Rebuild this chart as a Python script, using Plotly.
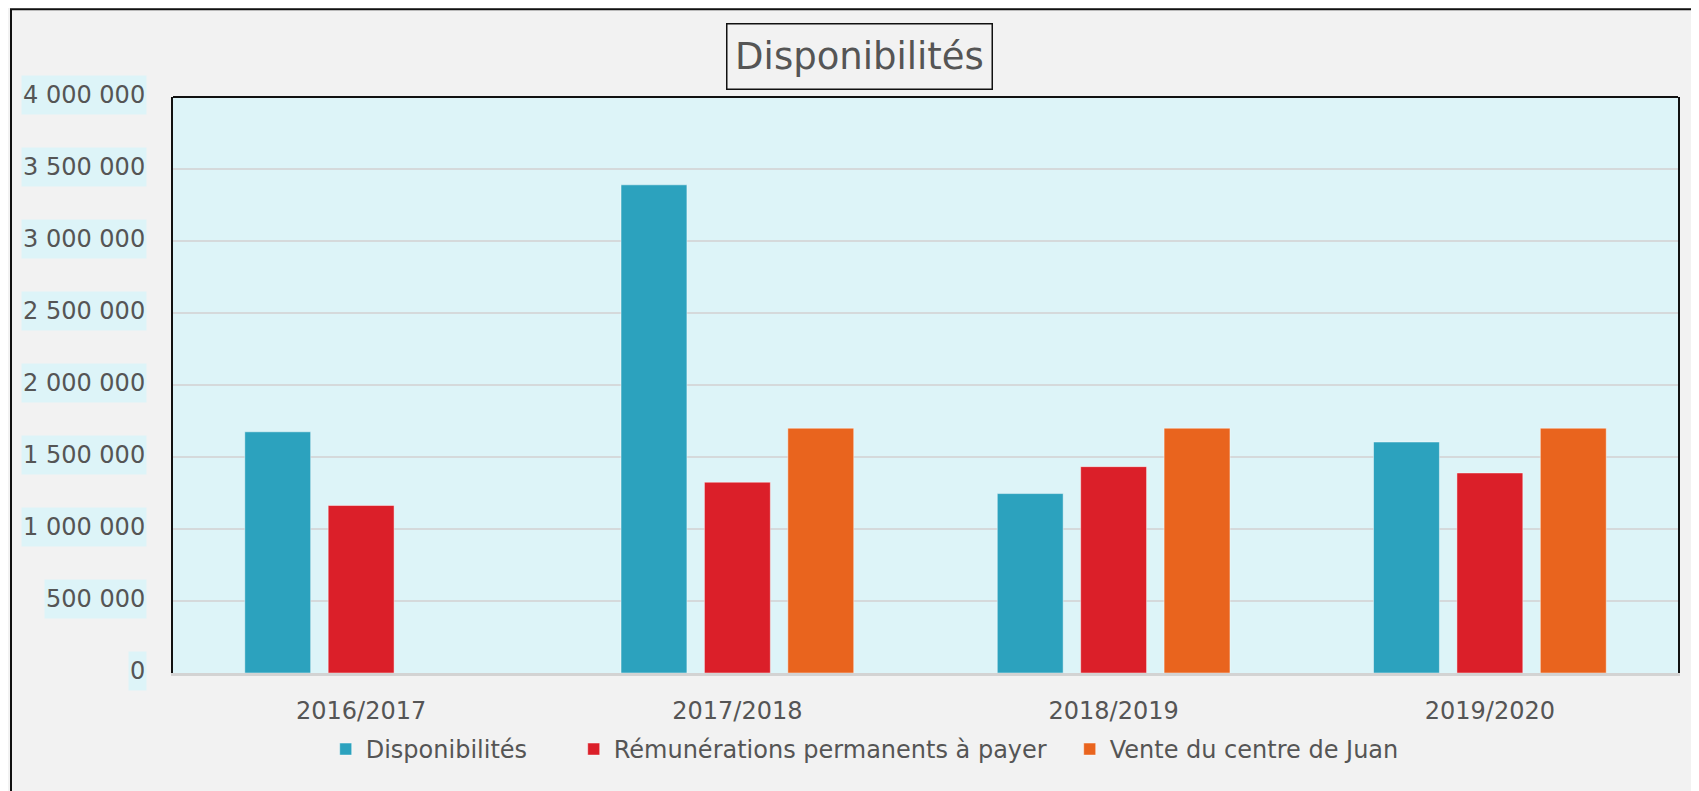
import plotly.graph_objects as go

categories = ["2016/2017", "2017/2018", "2018/2019", "2019/2020"]
disponibilites = [1675000, 3390000, 1246000, 1604000]
remunerations = [1163000, 1325000, 1433000, 1389000]
vente = [None, 1700000, 1700000, 1700000]

series_names = ["Disponibilités", "Rémunérations permanents à payer", "Vente du centre de Juan"]
series_colors = ["#2ca2be", "#db1f29", "#e9641e"]

y_tick_values = [0, 500000, 1000000, 1500000, 2000000, 2500000, 3000000, 3500000, 4000000]
y_tick_labels = ["0", "500 000", "1 000 000", "1 500 000", "2 000 000",
                 "2 500 000", "3 000 000", "3 500 000", "4 000 000"]

title_text = "Disponibilités"

FONT = "DejaVu Sans"
TEXT_COLOR = "#555555"
PAGE_BG = "#f2f2f2"
PLOT_BG = "#ddf4f8"

OFF = 8  # default page body margin
W, H = 1699 - OFF, 791 - OFF
ML, MT = 173 - OFF, 97 - OFF
PLOT_RIGHT, PLOT_BOTTOM = 1678 - OFF, 673.5 - OFF
MR = W - PLOT_RIGHT
MB = H - PLOT_BOTTOM
PW = W - ML - MR
PH = H - MT - MB


def fx(page_x):
    return (page_x - OFF - ML) / PW


def fy(page_y):
    return (PLOT_BOTTOM - (page_y - OFF)) / PH


legend_widths = [203, 451, 320]

fig = go.Figure()
for name, vals, col, lw in zip(series_names, [disponibilites, remunerations, vente], series_colors, legend_widths):
    fig.add_trace(go.Bar(
        x=categories, y=vals, name=name,
        marker=dict(color=col, line=dict(color="rgba(255,255,255,0.45)", width=1)),
        legendwidth=lw,
    ))

annotations = []
for v, lab in zip(y_tick_values, y_tick_labels):
    annotations.append(dict(
        x=0, xref="paper", y=v, yref="y",
        xanchor="right", yanchor="middle", xshift=-26, yshift=2,
        text=lab, showarrow=False,
        font=dict(family=FONT, size=24, color=TEXT_COLOR),
        bgcolor=PLOT_BG, borderpad=1, height=36, valign="middle",
    ))

annotations.append(dict(
    x=fx(859), xref="paper", y=fy(56), yref="paper",
    xanchor="center", yanchor="middle",
    text=title_text, showarrow=False,
    font=dict(family=FONT, size=37, color=TEXT_COLOR),
    bordercolor="#111111", borderwidth=1.5, borderpad=2,
    width=260, height=60, valign="middle",
))

shapes = [
    dict(type="rect", xref="paper", yref="paper",
         x0=fx(11), x1=fx(1760),
         y0=fy(900), y1=fy(9.2),
         line=dict(color="#111111", width=2), fillcolor="rgba(0,0,0,0)", layer="above"),
    dict(type="line", xref="paper", yref="paper", x0=0, x1=1, y0=1, y1=1,
         line=dict(color="#111111", width=2), layer="above"),
]

fig.update_layout(
    width=W, height=H,
    margin=dict(l=ML, r=MR, t=MT, b=MB),
    paper_bgcolor=PAGE_BG, plot_bgcolor=PLOT_BG,
    font=dict(family=FONT, size=24, color=TEXT_COLOR),
    barmode="group", bargap=0.335, bargroupgap=0.21,
    showlegend=True,
    legend=dict(orientation="h", x=fx(325.7), xanchor="left",
                y=fy(727.5), yanchor="top",
                font=dict(family=FONT, size=24, color=TEXT_COLOR),
                bgcolor="rgba(0,0,0,0)", itemclick=False),
    annotations=annotations,
    shapes=shapes,
    xaxis=dict(showgrid=False, showline=True, linecolor="#d3d3d3", linewidth=3,
               ticks="", ticklabelstandoff=14,
               tickfont=dict(family=FONT, size=24, color=TEXT_COLOR),
               fixedrange=True),
    yaxis=dict(range=[0, 4000000], tickvals=y_tick_values, showticklabels=False,
               showgrid=True, gridcolor="#d5d9db", gridwidth=2, zeroline=False,
               showline=True, linecolor="#111111", linewidth=2, mirror=True,
               ticks="", fixedrange=True),
)

fig.write_html("out.html")
